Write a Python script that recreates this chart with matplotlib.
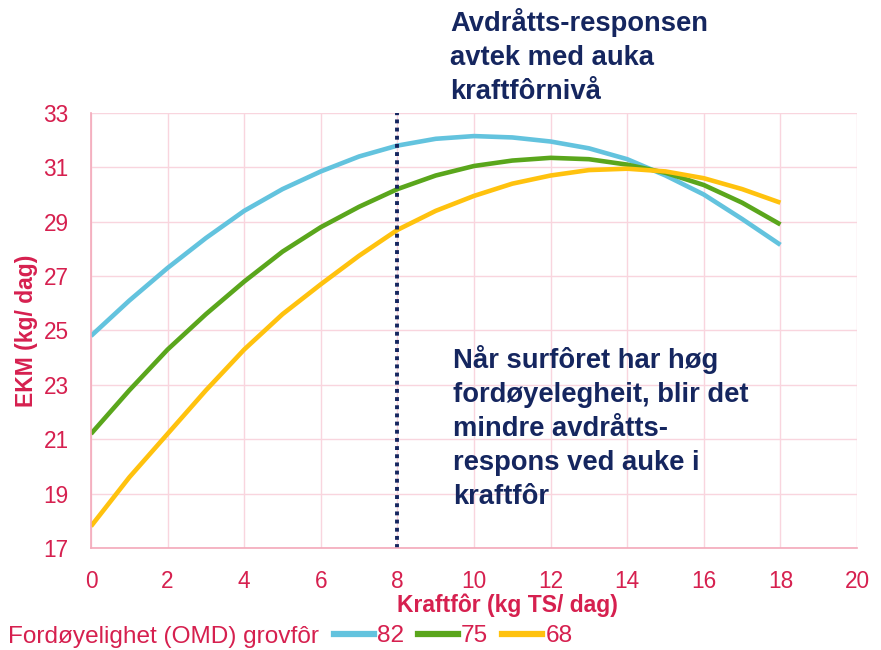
import matplotlib
matplotlib.use("Agg")
import matplotlib.pyplot as plt
from matplotlib.lines import Line2D

plt.rcParams['font.family'] = ['Liberation Sans', 'DejaVu Sans']

x = list(range(0, 19))
omd82 = [24.8, 26.1, 27.3, 28.4, 29.4, 30.2, 30.85, 31.4, 31.8, 32.05, 32.15,
         32.1, 31.95, 31.7, 31.3, 30.7, 30.0, 29.1, 28.15]
omd75 = [21.2, 22.8, 24.3, 25.6, 26.8, 27.9, 28.8, 29.55, 30.2, 30.7, 31.05,
         31.25, 31.35, 31.3, 31.1, 30.8, 30.35, 29.7, 28.9]
omd68 = [17.8, 19.6, 21.2, 22.8, 24.3, 25.6, 26.7, 27.75, 28.7, 29.4, 29.95,
         30.4, 30.7, 30.9, 30.95, 30.85, 30.6, 30.2, 29.7]
series_labels = ["82", "75", "68"]
xticks = list(range(0, 21, 2))
yticks = list(range(17, 34, 2))

RED = '#D6204F'
NAVY = '#15265F'
PINK = '#F9D5DE'
colors = ['#63C3DE', '#5AA61C', '#FFC20E']

fig = plt.figure(figsize=(8.81, 6.5), dpi=100)
ax = fig.add_axes([0.1033, 0.1569, 0.8695, 0.6693])

for ys, c, lab in zip([omd82, omd75, omd68], colors, series_labels):
    ax.plot(x, ys, color=c, lw=3.3, label=lab, solid_capstyle='butt')

ax.axvline(8, color=NAVY, lw=2.8, ls=(0, (1, 1.1)))

ax.set_xlim(0, 20)
ax.set_ylim(17, 33)
ax.set_xticks(xticks)
ax.set_yticks(yticks)
ax.grid(True, color=PINK, lw=1)
ax.set_axisbelow(True)
for s in ['top', 'right']:
    ax.spines[s].set_visible(False)
for s in ['left', 'bottom']:
    ax.spines[s].set_color('#F4A9BA')
    ax.spines[s].set_linewidth(1.2)
ax.tick_params(length=0, labelsize=16.3, colors=RED)
ax.tick_params(axis='y', pad=16)
ax.tick_params(axis='x', pad=16)

ax.set_xlabel('Kraftfôr (kg TS/ dag)', color=RED, fontsize=16.5, fontweight='bold', labelpad=0.5)
ax.xaxis.label.set_x(0.544)
ax.set_ylabel('EKM (kg/ dag)', color=RED, fontsize=16.5, fontweight='bold', labelpad=4)

fig.text(0.511, 0.987, 'Avdråtts-responsen\navtek med auka\nkraftfôrnivå', color=NAVY,
         fontsize=19.7, fontweight='bold', va='top', ha='left', linespacing=1.4)
ax.text(9.45, 24.45, 'Når surfôret har høg\nfordøyelegheit, blir det\nmindre avdråtts-\nrespons ved auke i\nkraftfôr',
        color=NAVY, fontsize=19.7, fontweight='bold', va='top', ha='left', linespacing=1.4)

fig.text(0.009, 0.011, 'Fordøyelighet (OMD) grovfôr', color=RED, fontsize=17.6, va='baseline', ha='left')
handles = [Line2D([], [], color=c, lw=4.5) for c in colors]
leg = fig.legend(handles, series_labels, loc='center left', bbox_to_anchor=(0.379, 0.0215),
                 ncol=3, frameon=False, handlelength=1.65, handletextpad=0.12,
                 columnspacing=0.56, fontsize=17.6, borderpad=0, borderaxespad=0)
for t in leg.get_texts():
    t.set_color(RED)

fig.savefig('out.png', dpi=100)
